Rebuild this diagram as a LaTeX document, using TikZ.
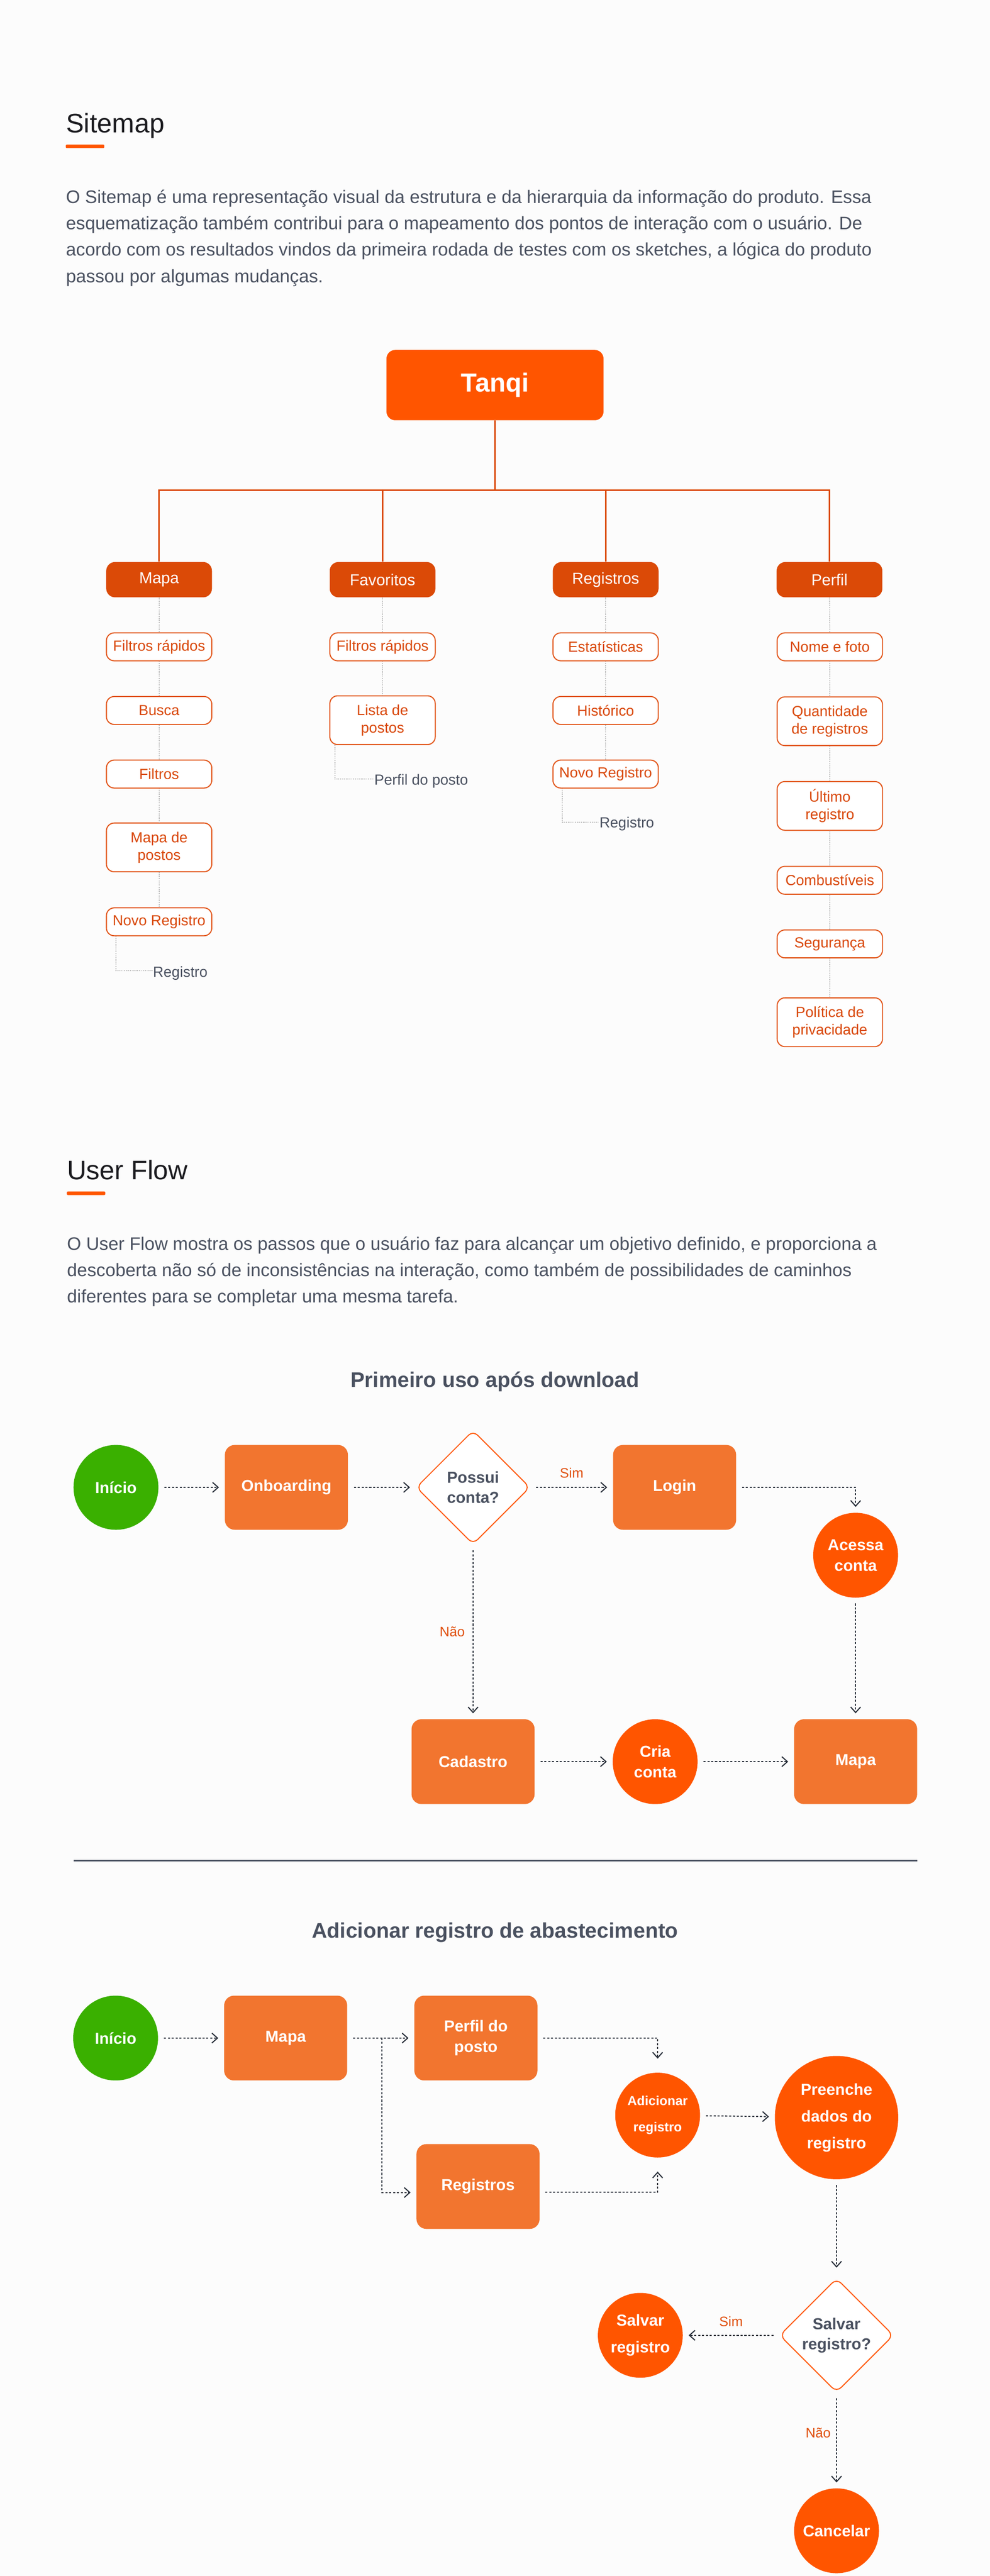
\documentclass[tikz,border=0pt]{standalone}
\usepackage{fontspec}
\setmainfont{Liberation Sans}
\usetikzlibrary{shapes.geometric,arrows.meta}
\definecolor{pagebg}{HTML}{FCFCFC}
\definecolor{tanqi}{HTML}{FF5500}
\definecolor{catfill}{HTML}{DB4A07}
\definecolor{leafline}{HTML}{E2561A}
\definecolor{leaftext}{HTML}{D9480A}
\definecolor{dotgray}{HTML}{BDBDBD}
\definecolor{bodygray}{HTML}{4A5160}
\definecolor{titleblack}{HTML}{1B1B1F}
\definecolor{flowfill}{HTML}{F2752F}
\definecolor{startgreen}{HTML}{3AB000}
\definecolor{arrowdark}{HTML}{252C37}
\definecolor{labelorange}{HTML}{E0500F}

\begin{document}
\begin{tikzpicture}[
    secttitle/.style={anchor=base west, inner sep=0pt, text=titleblack, font=\fontsize{21.6}{26}\selectfont},
    bodytext/.style={anchor=north west, inner sep=0pt, align=left, text=bodygray, font=\fontsize{14.6}{21.3}\selectfont},
    flowtitle/.style={anchor=base, inner sep=0pt, text=bodygray, font=\bfseries\fontsize{17}{20}\selectfont},
    rootbox/.style={fill=tanqi, rounded corners=0.25cm, minimum width=6.14cm, minimum height=1.99cm, text=white, font=\bfseries\fontsize{21}{25}\selectfont},
    catbox/.style={fill=catfill, rounded corners=0.25cm, minimum width=2.99cm, minimum height=1cm, text=white, font=\fontsize{12.8}{15}\selectfont},
    leafbox/.style={draw=leafline, line width=0.85pt, fill=white, rounded corners=0.22cm, minimum width=2.98cm, minimum height=0.79cm, inner sep=0pt, align=center, text=leaftext, font=\fontsize{11.8}{14}\selectfont},
    twoline/.style={minimum height=1.38cm},
    sublabel/.style={anchor=base west, inner sep=0pt, text=bodygray, font=\fontsize{11.8}{14}\selectfont},
    treeline/.style={draw=catfill, line width=1.1pt},
    dotline/.style={draw=dotgray, line width=0.85pt, dash pattern=on 0.75pt off 0.75pt},
    flowrect/.style={fill=flowfill, rounded corners=0.28cm, minimum width=3.48cm, minimum height=2.4cm, inner sep=0pt, align=center, text=white, font=\bfseries\fontsize{12.8}{16.5}\selectfont},
    flowcirc/.style={circle, fill=tanqi, minimum size=2.4cm, inner sep=0pt, align=center, text=white, font=\bfseries\fontsize{12.8}{16.5}\selectfont},
    startcirc/.style={flowcirc, fill=startgreen},
    widelines/.style={font=\bfseries\fontsize{12.8}{21.6}\selectfont},
    decision/.style={diamond, draw=tanqi, line width=0.8pt, fill=white, rounded corners=0.18cm, minimum width=3.22cm, minimum height=3.22cm, inner sep=0pt, align=center, text=bodygray, font=\bfseries\fontsize{12.8}{16.2}\selectfont},
    flowarrow/.style={draw=arrowdark, line width=0.85pt, dash pattern=on 1.7pt off 1.4pt, -{Straight Barb[length=4.5pt,width=8pt]}, shorten <=0.16cm, shorten >=0.16cm},
    flowlabel/.style={inner sep=0pt, text=labelorange, font=\fontsize{11}{13}\selectfont}
  ]
  \useasboundingbox[fill=pagebg] (0,0) rectangle (28,-72.88);

  % Sitemap
  \node[secttitle] (sitemaptitle) at (1.86,-3.76) {Sitemap};
  \fill[tanqi, rounded corners=0.03cm] (1.86,-4.09) rectangle (2.95,-4.19);
  \node[bodytext] (sitemaptext) at (1.86,-5.36) {O Sitemap é uma representação visual da estrutura e da hierarquia da informação do produto. Essa\\
    esquematização também contribui para o mapeamento dos pontos de interação com o usuário. De\\
    acordo com os resultados vindos da primeira rodada de testes com os sketches, a lógica do produto\\
    passou por algumas mudanças.};

  \node[rootbox] (tanqi) at (14.00,-10.895) {Tanqi};
  \coordinate (junc) at (14.00,-13.87);
  \node[catbox] (mapa) at (4.50,-16.40) {Mapa};
  \node[catbox] (favoritos) at (10.82,-16.40) {Favoritos};
  \node[catbox] (registros) at (17.13,-16.40) {Registros};
  \node[catbox] (perfil) at (23.46,-16.40) {Perfil};
  \draw[treeline] (tanqi.south) -- (junc);
  \draw[treeline] (mapa.north) |- (junc) -| (perfil.north);
  \draw[treeline] (favoritos.north) -- (favoritos.north |- junc);
  \draw[treeline] (registros.north) -- (registros.north |- junc);

  \node[leafbox] (m1) at (4.50,-18.30) {Filtros rápidos};
  \node[leafbox] (m2) at (4.50,-20.10) {Busca};
  \node[leafbox] (m3) at (4.50,-21.90) {Filtros};
  \node[leafbox, twoline] (m4) at (4.50,-23.975) {Mapa de\\postos};
  \node[leafbox] (m5) at (4.50,-26.08) {Novo Registro};
  \node[sublabel] (m6) at (4.32,-27.64) {Registro};
  \draw[dotline] (mapa) -- (m1) -- (m2) -- (m3) -- (m4) -- (m5);
  \draw[dotline] ([xshift=0.28cm]m5.south west) |- ([yshift=0.07cm]m6.west);

  \node[leafbox] (f1) at (10.82,-18.30) {Filtros rápidos};
  \node[leafbox, twoline] (f2) at (10.82,-20.375) {Lista de\\postos};
  \node[sublabel] (f3) at (10.58,-22.20) {Perfil do posto};
  \draw[dotline] (favoritos) -- (f1) -- (f2);
  \draw[dotline] ([xshift=0.16cm]f2.south west) |- ([yshift=0.05cm]f3.west);

  \node[leafbox] (r1) at (17.13,-18.30) {Estatísticas};
  \node[leafbox] (r2) at (17.13,-20.10) {Histórico};
  \node[leafbox] (r3) at (17.13,-21.90) {Novo Registro};
  \node[sublabel] (r4) at (16.95,-23.42) {Registro};
  \draw[dotline] (registros) -- (r1) -- (r2) -- (r3);
  \draw[dotline] ([xshift=0.28cm]r3.south west) |- ([yshift=0.05cm]r4.west);

  \node[leafbox] (p1) at (23.47,-18.30) {Nome e foto};
  \node[leafbox, twoline] (p2) at (23.47,-20.405) {Quantidade\\de registros};
  \node[leafbox, twoline] (p3) at (23.47,-22.80) {Último\\registro};
  \node[leafbox] (p4) at (23.47,-24.905) {Combustíveis};
  \node[leafbox] (p5) at (23.47,-26.705) {Segurança};
  \node[leafbox, twoline] (p6) at (23.47,-28.92) {Política de\\privacidade};
  \draw[dotline] (perfil) -- (p1) -- (p2) -- (p3) -- (p4) -- (p5) -- (p6);

  % User Flow
  \node[secttitle] (flowtitle) at (1.89,-33.37) {User Flow};
  \fill[tanqi, rounded corners=0.03cm] (1.89,-33.71) rectangle (2.98,-33.81);
  \node[bodytext] (flowtext) at (1.89,-34.98) {O User Flow mostra os passos que o usuário faz para alcançar um objetivo definido, e proporciona a\\
    descoberta não só de inconsistências na interação, como também de possibilidades de caminhos\\
    diferentes para se completar uma mesma tarefa.};

  \node[flowtitle] (firsttitle) at (14.00,-39.24) {Primeiro uso após download};
  \node[startcirc] (inicioA) at (3.28,-42.08) {Início};
  \node[flowrect] (onb) at (8.10,-42.08) {Onboarding};
  \node[decision] (possui) at (13.38,-42.08) {Possui\\conta?};
  \node[flowrect] (login) at (19.08,-42.08) {Login};
  \node[flowcirc] (acessa) at (24.20,-44.00) {Acessa\\conta};
  \node[flowrect] (cadastro) at (13.38,-49.84) {Cadastro};
  \node[flowcirc] (cria) at (18.53,-49.84) {Cria\\conta};
  \node[flowrect] (mapaA) at (24.20,-49.84) {Mapa};
  \draw[flowarrow] (inicioA) -- (onb);
  \draw[flowarrow] (onb) -- (possui);
  \draw[flowarrow] (possui) -- (login) node[flowlabel, midway, above=0.25cm] {Sim};
  \draw[flowarrow] (login.east) -| (acessa.north);
  \draw[flowarrow] (possui) -- (cadastro) node[flowlabel, midway, left=0.22cm] {Não};
  \draw[flowarrow] (acessa) -- (mapaA);
  \draw[flowarrow] (cadastro) -- (cria);
  \draw[flowarrow] (cria) -- (mapaA);

  \draw[bodygray, line width=1.1pt] (2.08,-52.64) -- (25.94,-52.64);

  \node[flowtitle] (secondtitle) at (14.00,-54.82) {Adicionar registro de abastecimento};
  \node[startcirc] (inicioB) at (3.27,-57.66) {Início};
  \node[flowrect] (mapaB) at (8.08,-57.66) {Mapa};
  \node[flowrect] (perfilB) at (13.46,-57.66) {Perfil do\\posto};
  \node[flowrect] (registrosB) at (13.52,-61.86) {Registros};
  \node[flowcirc, font=\bfseries\fontsize{10.5}{21.3}\selectfont] (adicionar) at (18.60,-59.84) {Adicionar\\registro};
  \node[flowcirc, widelines, minimum size=3.49cm] (preenche) at (23.66,-59.91) {Preenche\\dados do\\registro};
  \node[decision] (salvarQ) at (23.66,-66.07) {Salvar\\registro?};
  \node[flowcirc, widelines] (salvar) at (18.11,-66.07) {Salvar\\registro};
  \node[flowcirc] (cancelar) at (23.66,-71.60) {Cancelar};
  \coordinate (split) at (10.80,-57.66);
  \draw[flowarrow] (inicioB) -- (mapaB);
  \draw[flowarrow] (mapaB) -- (perfilB);
  \draw[flowarrow, shorten <=0pt] (split) |- ([yshift=-0.17cm]registrosB.west);
  \draw[flowarrow, shorten >=0.39cm] (perfilB.east) -| (adicionar.north);
  \draw[flowarrow, shorten >=0.39cm] ([yshift=-0.16cm]registrosB.east) -| (adicionar.south);
  \draw[flowarrow] (adicionar) -- (preenche);
  \draw[flowarrow, shorten >=0.29cm] (preenche) -- (salvarQ);
  \draw[flowarrow] (salvarQ) -- (salvar) node[flowlabel, midway, above=0.24cm] {Sim};
  \draw[flowarrow] (salvarQ) -- (cancelar) node[flowlabel, pos=0.42, left=0.15cm] {Não};
\end{tikzpicture}
\end{document}
